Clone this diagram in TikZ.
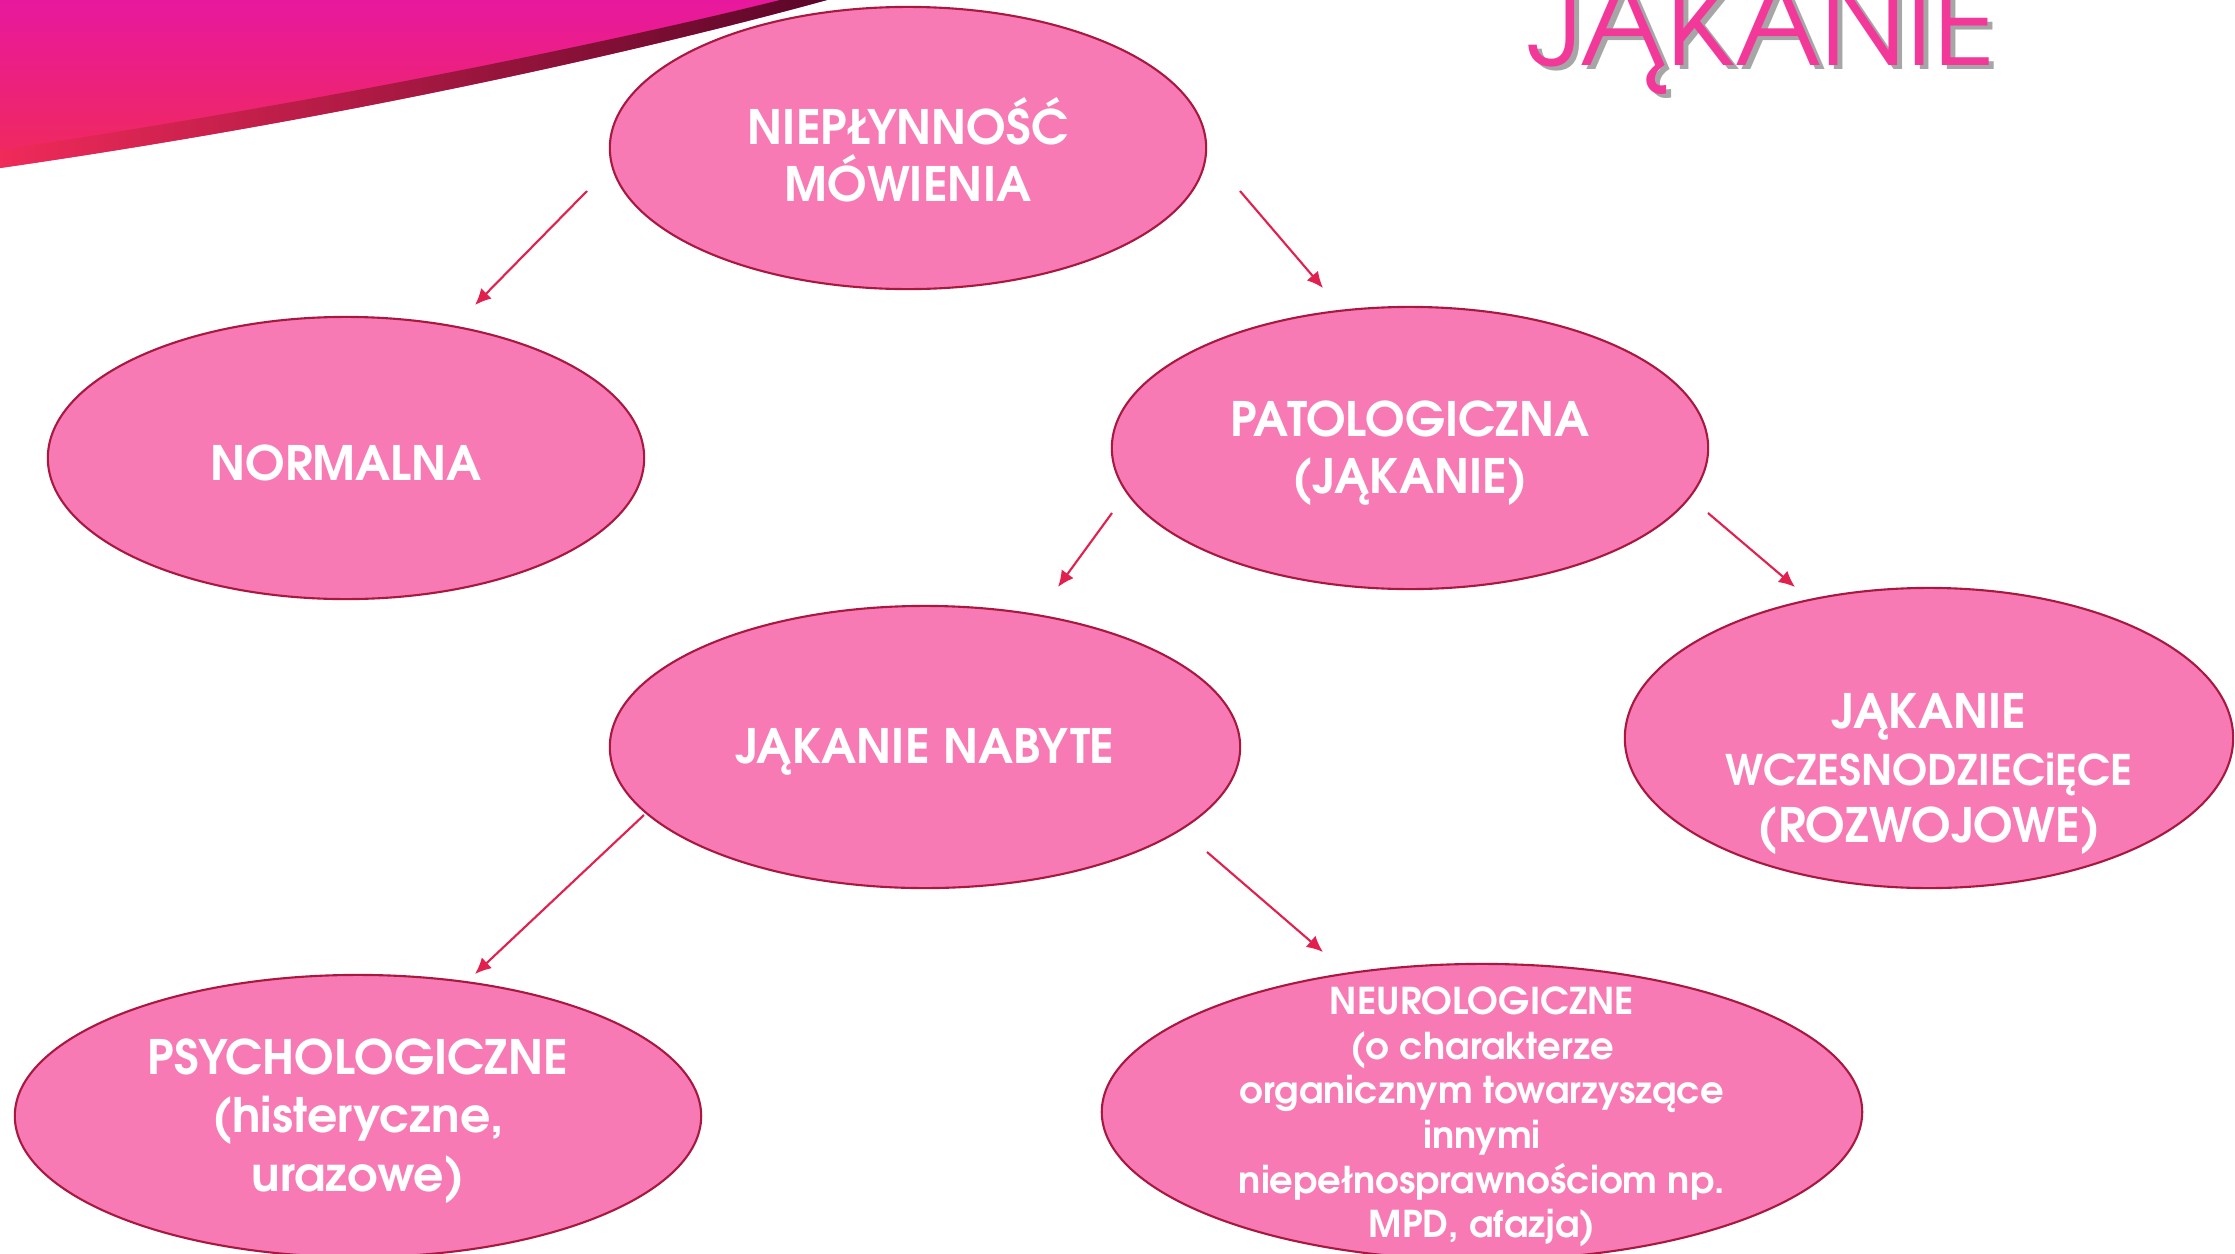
\documentclass[tikz,border=0pt]{standalone}
\usepackage{fontspec}
\setmainfont{TeX Gyre Adventor}
\usetikzlibrary{shapes.geometric,arrows.meta}
\definecolor{bubblefill}{HTML}{F87AB4}
\definecolor{bubbleline}{HTML}{A8183F}
\definecolor{arrowred}{HTML}{E2204E}
\definecolor{titlepink}{HTML}{F2399A}
\definecolor{swtop}{HTML}{E8189E}
\definecolor{swbot}{HTML}{F02A5A}
\definecolor{swdark}{HTML}{5A0628}
\tikzset{bubble/.style={ellipse,draw=bubbleline,line width=0.6pt,fill=bubblefill,inner sep=0pt} }
\tikzset{txt/.style={text=white,align=center,yshift=-0.05cm,font=\fontsize{13.5}{16.2}\selectfont\bfseries} }
\tikzset{arr/.style={-{Latex[length=4.6pt,width=4.2pt]},draw=arrowred,line width=0.6pt} }

\begin{document}
\begin{tikzpicture}[x=0.01cm,y=-0.01cm]
    \useasboundingbox (0,0) rectangle (2235,1254);
    \clip (0,0) rectangle (2235,1254);
    % swoosh top left
    \shade[top color=swtop,bottom color=swbot] (0,0) -- (827,0) .. controls (700,35) and (400,110) .. (0,168) -- cycle;
    \shade[left color=swbot,right color=swdark] (827,0) .. controls (700,35) and (400,110) .. (0,168) -- (0,150) .. controls (400,90) and (680,25) .. (780,0) -- cycle;
    % title
    \node[anchor=base west,text=black!35,font=\fontsize{33}{33}\selectfont] at (1520,69) {JĄKANIE};
    \node[anchor=base west,text=titlepink,font=\fontsize{33}{33}\selectfont] (title) at (1515,65) {JĄKANIE};
    % bubbles
    \node[bubble,minimum width=5.96cm,minimum height=2.82cm,label={[txt,yshift=0.03cm]center:{NIEPŁYNNOŚĆ\\MÓWIENIA}}] (nie) at (908,148) {};
    \node[bubble,minimum width=5.96cm,minimum height=2.82cm,label={[txt]center:{NORMALNA}}] (norm) at (346,458) {};
    \node[bubble,minimum width=5.96cm,minimum height=2.82cm,label={[txt]center:{PATOLOGICZNA\\(JĄKANIE)}}] (pat) at (1410,448) {};
    \node[bubble,minimum width=6.30cm,minimum height=2.82cm,label={[txt]center:{JĄKANIE NABYTE}}] (nab) at (925,747) {};
    \node[bubble,minimum width=6.08cm,minimum height=3.00cm,label={[txt,yshift=-0.31cm]center:{JĄKANIE\\{\fontsize{12}{14.6}\selectfont WCZESNODZIECiĘCE}\\(ROZWOJOWE)}}] (wcz) at (1929,738) {};
    \node[bubble,minimum width=6.86cm,minimum height=2.82cm,label={[txt,font=\fontsize{13.5}{16.6}\selectfont\bfseries]center:{PSYCHOLOGICZNE\\(histeryczne,\\urazowe)}}] (psy) at (358,1116) {};
    \node[bubble,minimum width=7.60cm,minimum height=2.96cm,label={[txt,font=\fontsize{10.5}{12.7}\selectfont\bfseries]center:{NEUROLOGICZNE\\(o charakterze\\organicznym towarzyszące\\innymi\\niepełnosprawnościom np.\\MPD, afazja)}}] (neu) at (1482,1112) {};
    % arrow ends
    \coordinate (nieL) at (587,191);
    \coordinate (normT) at (475,305);
    \coordinate (nieR) at (1240,191);
    \coordinate (patT) at (1323,288);
    \coordinate (patL) at (1112,513);
    \coordinate (nabT) at (1058,587);
    \coordinate (patR) at (1708,513);
    \coordinate (wczT) at (1795,587);
    \coordinate (nabL) at (644,815);
    \coordinate (psyT) at (475,974);
    \coordinate (nabR) at (1207,852);
    \coordinate (neuT) at (1323,952);
    \draw[arr] (nieL) -- (normT);
    \draw[arr] (nieR) -- (patT);
    \draw[arr] (patL) -- (nabT);
    \draw[arr] (patR) -- (wczT);
    \draw[arr] (nabL) -- (psyT);
    \draw[arr] (nabR) -- (neuT);
\end{tikzpicture}
\end{document}
